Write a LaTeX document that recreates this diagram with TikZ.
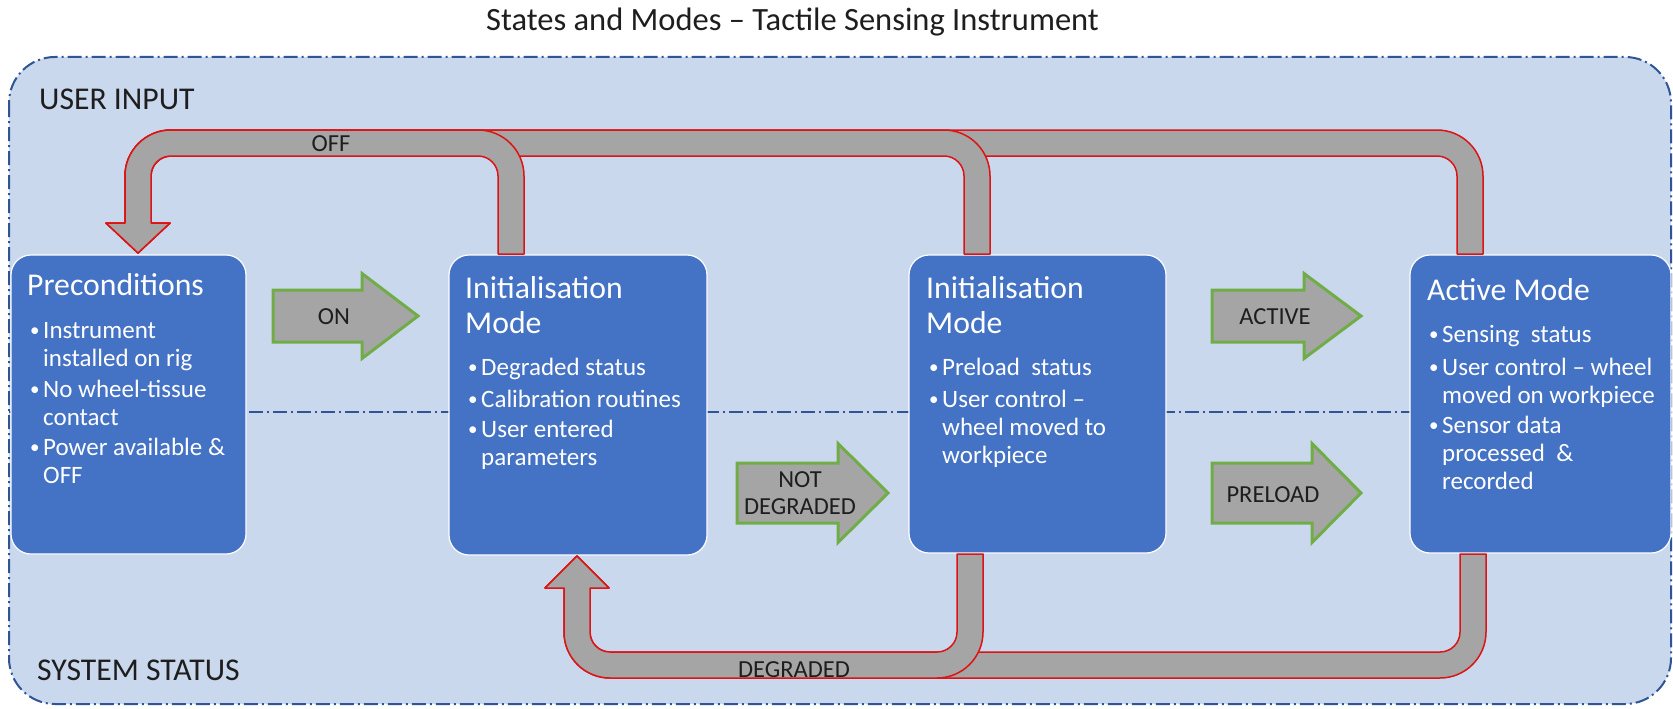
\documentclass[tikz,border=0pt]{standalone}
\usepackage{fontspec}
\setmainfont{Carlito}
\definecolor{bgblue}{HTML}{CAD8EE}
\definecolor{boxblue}{HTML}{4472C4}
\definecolor{edgeblue}{HTML}{2F5597}
\definecolor{bandgray}{HTML}{A5A5A5}
\definecolor{bandred}{HTML}{DC1414}
\definecolor{agreen}{HTML}{70AD47}
\definecolor{ink}{HTML}{1E1E1E}
\newcommand\bitem{\makebox[14pt][l]{\hspace{1pt}\raisebox{1.6pt}{\fontsize{19}{20}\selectfont •}}}
% upper return arrow (stub left x = #1) towards Preconditions
\newcommand\offband[1]{%
  \pgfmathsetmacro\ua{#1}\pgfmathsetmacro\ub{#1+26}%
  \draw[band] (\ua,254) -- (\ua,176) .. controls (\ua,164.96) and (\ua-8.96,156) .. (\ua-20,156)
    -- (171,156) .. controls (159.96,156) and (151,164.96) .. (151,176)
    -- (151,223) -- (170,223) -- (138,253) -- (106,223) -- (125,223)
    -- (125,176) .. controls (125,150.6) and (145.6,130) .. (171,130)
    -- (\ub-46,130) .. controls (\ub-20.6,130) and (\ub,150.6) .. (\ub,176)
    -- (\ub,254) -- cycle;}
% lower return arrow (stub left x = #1) towards Initialisation 1
\newcommand\degband[1]{%
  \pgfmathsetmacro\da{#1}\pgfmathsetmacro\db{#1+26}%
  \draw[band] (\da,554) -- (\da,632) .. controls (\da,643.04) and (\da-8.96,652) .. (\da-20,652)
    -- (610,652) .. controls (598.96,652) and (590,643.04) .. (590,632)
    -- (590,588) -- (609,588) -- (577,556) -- (545,588) -- (564,588)
    -- (564,632) .. controls (564,657.4) and (584.6,678) .. (610,678)
    -- (\db-46,678) .. controls (\db-20.6,678) and (\db,657.4) .. (\db,632)
    -- (\db,554) -- cycle;}
% green block arrow: x0 x1 xtip cy bodyhalf headhalf
\newcommand\blockarrow[6]{%
  \draw[garrow] (#1,#4-#5) -- (#2,#4-#5) -- (#2,#4-#6) -- (#3,#4) -- (#2,#4+#6) -- (#2,#4+#5) -- (#1,#4+#5) -- cycle;}
\begin{document}
\begin{tikzpicture}[x=1pt,y=-1pt,
  box/.style={draw=white, line width=1.2pt, fill=boxblue, rounded corners=20pt, inner sep=0pt, rectangle},
  head/.style={anchor=base west, inner sep=0pt, text=white, font=\fontsize{31.7}{36}\selectfont},
  item/.style={anchor=base west, inner sep=0pt, text=white, font=\fontsize{25}{28}\selectfont},
  lbl/.style={anchor=base, inner sep=0pt, text=ink, font=\fontsize{24.5}{28}\selectfont},
  zone/.style={anchor=base west, inner sep=0pt, text=ink, font=\fontsize{31.7}{36}\selectfont},
  band/.style={fill=bandgray, draw=bandred, line width=1.5pt, line join=round},
  garrow/.style={fill=bandgray, draw=agreen, line width=3pt, line join=miter},
  dashdot/.style={draw=edgeblue, dash pattern=on 14pt off 4pt on 2pt off 4pt}]
\useasboundingbox (0,0) rectangle (1673,709);
\fill[white] (0,0) rectangle (1673,709);
% title
\node[anchor=base west, inner sep=0pt, text=ink, font=\fontsize{32.5}{38}\selectfont] (title) at (486,31) {States and Modes – Tactile Sensing Instrument};
% background zone
\draw[dashdot, line width=2pt, fill=bgblue, rounded corners=46pt] (9,57) rectangle (1671,704);
\draw[dashdot, line width=1.5pt] (9,412) -- (1671,412);
\node[zone] (user) at (39,109) {USER INPUT};
\node[zone] (sys) at (37,680) {SYSTEM STATUS};
% boxes
\node[box, minimum width=235pt, minimum height=299pt] (pre) at (128.5,404.5) {};
\node[box, minimum width=258pt, minimum height=300pt] (ini1) at (578,405) {};
\node[box, minimum width=257pt, minimum height=298pt] (ini2) at (1037.5,404) {};
\node[box, minimum width=261pt, minimum height=298pt] (act) at (1540.5,404) {};
% Preconditions text
\node[head] (preT) at (27,295) {Preconditions};
\node[item] (pre1) at (29,338) {\bitem Instrument};
\node[item] (pre1b) at (43,366) {installed on rig};
\node[item] (pre2) at (29,397) {\bitem No wheel-tissue};
\node[item] (pre2b) at (43,425) {contact};
\node[item] (pre3) at (29,455) {\bitem Power available \&};
\node[item] (pre3b) at (43,483) {OFF};
% Initialisation 1 text
\node[head] (iaT) at (465,298) {Initialisation};
\node[head] (iaM) at (465,333) {Mode};
\node[item] (ia1) at (467,375) {\bitem Degraded status};
\node[item] (ia2) at (467,407) {\bitem Calibration routines};
\node[item] (ia3) at (467,437) {\bitem User entered};
\node[item] (ia3b) at (481,465) {parameters};
% Initialisation 2 text
\node[head] (ibT) at (926,298) {Initialisation};
\node[head] (ibM) at (926,333) {Mode};
\node[item] (ib1) at (928,375) {\bitem Preload~ status};
\node[item] (ib2) at (928,407) {\bitem User control –};
\node[item] (ib2b) at (942,435) {wheel moved to};
\node[item] (ib2c) at (942,463) {workpiece};
% Active text
\node[head] (acT) at (1427,300) {Active Mode};
\node[item] (ac1) at (1428,342) {\bitem Sensing~ status};
\node[item] (ac2) at (1428,375) {\bitem User control – wheel};
\node[item] (ac2b) at (1442,403) {moved on workpiece};
\node[item] (ac3) at (1428,433) {\bitem Sensor data};
\node[item] (ac3b) at (1442,461) {processed~ \&};
\node[item] (ac3c) at (1442,489) {recorded};
% green transition arrows
\blockarrow{273}{362}{418}{316}{26}{42.5}
\blockarrow{1212}{1304}{1361}{316}{26}{42.5}
\blockarrow{737}{838}{888}{493}{30}{49.5}
\blockarrow{1212}{1312}{1361}{493}{30}{49.5}
\node[lbl] (on) at (334,324) {ON};
\node[lbl] (active) at (1275,324) {ACTIVE};
\node[lbl] (notd1) at (800,487) {NOT};
\node[lbl] (notd2) at (800,514) {DEGRADED};
\node[lbl] (preload) at (1273,502) {PRELOAD};
% return arrows
\offband{1457}
\offband{964}
\offband{498}
\degband{1460}
\degband{957}
\node[lbl] (off) at (331,151) {OFF};
\node[lbl] (deg) at (794,677) {DEGRADED};
\end{tikzpicture}
\end{document}
